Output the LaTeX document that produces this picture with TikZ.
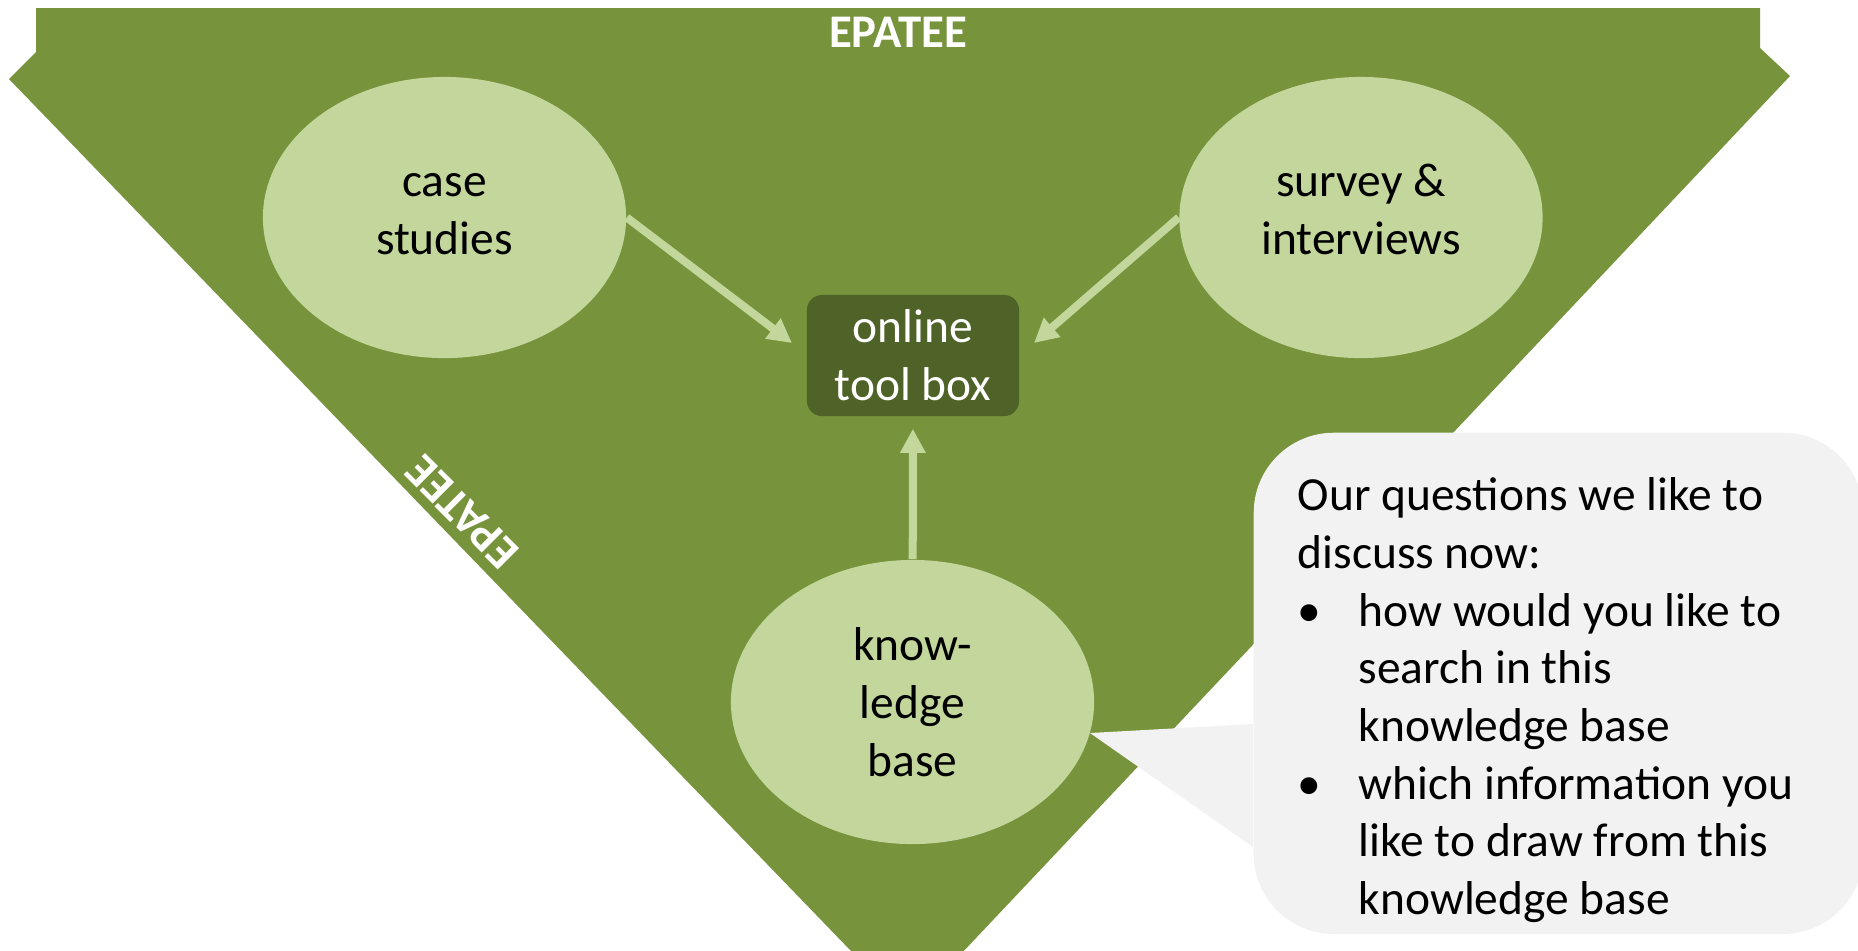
\documentclass[tikz,border=0pt]{standalone}
\usepackage{fontspec}
\setmainfont{Carlito}
\usepackage{xcolor}
\usetikzlibrary{shapes.geometric,arrows.meta,positioning}
\definecolor{epagreen}{HTML}{77933C}
\definecolor{palegreen}{HTML}{C3D69B}
\definecolor{darkolive}{HTML}{4F6228}
\definecolor{bubblegray}{HTML}{F2F2F2}
\newcommand{\slidefont}{\fontsize{13.5}{16.4}\selectfont}

\begin{document}
\begin{tikzpicture}[x=0.01cm,y=-0.01cm,
    topic/.style={ellipse,fill=palegreen,minimum width=3.63cm,minimum height=2.81cm,inner sep=0pt,align=center,font=\slidefont},
    twoline/.style={text height=21pt,text depth=0pt},
    hub/.style={rectangle,rounded corners=0.15cm,fill=darkolive,text=white,minimum width=2.12cm,minimum height=1.21cm,inner sep=0pt,align=center,font=\slidefont},
    flow/.style={draw=palegreen,line width=0.08cm,-{Triangle[length=0.24cm,width=0.24cm]}},
    brand/.style={text=white,inner sep=0pt,font=\bfseries\fontsize{13.3}{16}\selectfont},
    bubble/.style={fill=bubblegray,rounded corners=0.8cm,minimum width=6.09cm,minimum height=5.01cm,inner sep=0pt}]
  \useasboundingbox (0,0) rectangle (1858,950);
  \clip (0,0) rectangle (1858,950);
  % triangle banner
  \fill[epagreen] (36,8) -- (1760,8) -- (1760,48) -- (1790,76) -- (908,1010) -- (9,79) -- (36,52) -- cycle;
  \node[brand] (title) at (898,32) {EPATEE};
  \node[brand,rotate=135] (side) at (462,512) {EPATEE};

  \node[topic,twoline] (case) at (444.5,217.5) {case\\studies};
  \node[topic,twoline] (survey) at (1361,217.5) {survey \&\\interviews};
  \node[topic,minimum height=2.84cm] (kb) at (912.5,702) {know-\\ledge\\base};
  \node[hub] (tool) at (913,355.5) {online\\tool box};

  \coordinate (tipcase) at (792,343);
  \coordinate (tipsurvey) at (1034,343);
  \draw[flow] (case.east) -- (tipcase);
  \draw[flow] (survey.west) -- (tipsurvey);
  \draw[flow,shorten >=0.12cm] (kb) -- (tool);

  % callout
  \node[bubble,anchor=north west] (box) at (1253,432) {};
  \coordinate (ptip) at (1090,733);
  \fill[bubblegray] (1253,724) -- (ptip) -- (1253,847) -- cycle;
  \node[anchor=north west,inner sep=0pt,align=left,font=\slidefont] (qs) at (1297,477) {Our questions we like to\\
    discuss now:\\
    \makebox[0.61cm][l]{\textbullet}how would you like to\\
    \hspace*{0.61cm}search in this\\
    \hspace*{0.61cm}knowledge base\\
    \makebox[0.61cm][l]{\textbullet}which information you\\
    \hspace*{0.61cm}like to draw from this\\
    \hspace*{0.61cm}knowledge base};
\end{tikzpicture}
\end{document}
